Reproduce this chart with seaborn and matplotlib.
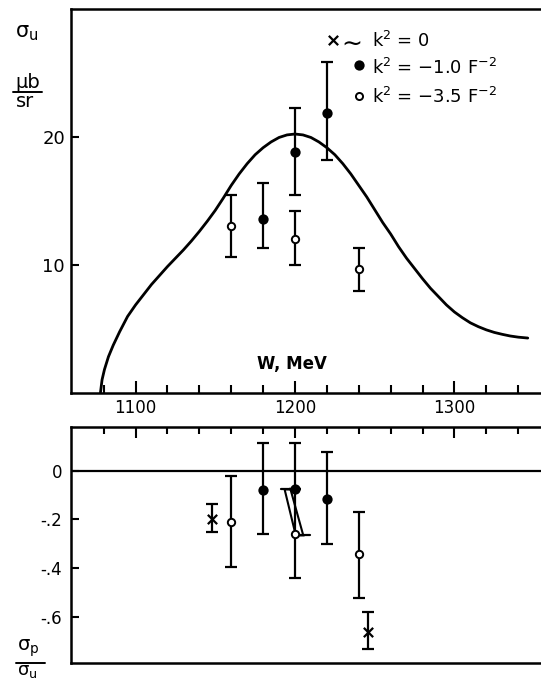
import matplotlib
matplotlib.use("Agg")
import matplotlib.pyplot as plt
import seaborn as sns
from matplotlib.lines import Line2D
from matplotlib.patches import Polygon
from matplotlib.ticker import FixedLocator

# theory curve, k^2 = 0  (W in MeV, sigma_u in microbarn/sr)
curve_w = [1078, 1079, 1080.5, 1083, 1086, 1090, 1095, 1100, 1105, 1110,
           1115, 1120, 1125, 1130, 1135, 1140, 1145, 1150, 1155, 1160,
           1165, 1170, 1175, 1180, 1185, 1190, 1195, 1200, 1205, 1210,
           1215, 1220, 1225, 1230, 1235, 1240, 1245, 1250, 1255, 1260,
           1265, 1270, 1275, 1280, 1285, 1290, 1295, 1300, 1305, 1310,
           1315, 1320, 1325, 1330, 1335, 1340, 1346]
curve_s = [0, 1.0, 1.8, 2.8, 3.7, 4.75, 5.95, 6.85, 7.65, 8.45,
           9.15, 9.85, 10.5, 11.15, 11.85, 12.6, 13.4, 14.25, 15.2, 16.2,
           17.1, 17.9, 18.6, 19.15, 19.6, 19.95, 20.15, 20.22, 20.15, 19.95,
           19.6, 19.15, 18.6, 17.9, 17.1, 16.2, 15.3, 14.3, 13.3, 12.4,
           11.4, 10.5, 9.7, 8.9, 8.15, 7.5, 6.85, 6.3, 5.85, 5.45,
           5.15, 4.9, 4.7, 4.55, 4.42, 4.33, 4.26]

# upper panel: k^2 = -1.0 F^-2 (filled) and -3.5 F^-2 (open)
up_filled_w = [1180, 1200, 1220]
up_filled_s = [13.6, 18.8, 21.85]
up_filled_lo = [11.33, 15.45, 18.2]
up_filled_hi = [16.37, 22.23, 25.83]

up_open_w = [1160, 1200, 1240]
up_open_s = [13.03, 11.98, 9.66]
up_open_lo = [10.62, 9.97, 7.94]
up_open_hi = [15.45, 14.22, 11.28]

# lower panel: sigma_p / sigma_u
lo_cross_w = [1148, 1246]
lo_cross_r = [-0.20, -0.662]
lo_cross_lo = [-0.251, -0.734]
lo_cross_hi = [-0.138, -0.582]

lo_filled_w = [1180, 1200, 1220]
lo_filled_r = [-0.079, -0.075, -0.118]
lo_filled_lo = [-0.261, -0.075, -0.302]
lo_filled_hi = [0.115, 0.115, 0.078]

lo_open_w = [1160, 1200, 1240]
lo_open_r = [-0.209, -0.261, -0.342]
lo_open_lo = [-0.394, -0.442, -0.524]
lo_open_hi = [-0.022, -0.075, -0.168]

# slanted band joining the two 1200 MeV points
band_w = [1193.5, 1197.2, 1205.2, 1200.5]
band_r = [-0.077, -0.077, -0.266, -0.266]
band_cap_top = [1191, 1197.5]
band_cap_bot = [1201, 1209.5]

major_ticks = [1100, 1200, 1300]
minor_ticks = list(range(1080, 1341, 20))
up_yticks = [10, 20]
lo_yticks = [0, -0.2, -0.4, -0.6]
lo_yticklabels = ["0", "-.2", "-.4", "-.6"]

sns.set_style("ticks")
plt.rcParams["font.family"] = ["DejaVu Sans"]
plt.rcParams["mathtext.fontset"] = "dejavusans"
for key in ("text.color", "axes.edgecolor", "axes.labelcolor", "xtick.color", "ytick.color"):
    plt.rcParams[key] = "black"

W, H = 541, 682
fig = plt.figure(figsize=(W / 100, H / 100), dpi=100)
fig.patch.set_facecolor("white")

def fx(px):
    return px / W

def fy(py):
    return 1 - py / H

ax1 = fig.add_axes([fx(70.5), fy(392.5), 1 - fx(70.5), 383.5 / H])
ax2 = fig.add_axes([fx(70.5), fy(663.3), 1 - fx(70.5), 236.6 / H])

LW = 1.8
for ax in (ax1, ax2):
    ax.set_xlim(1059.2, 1354.3)
    ax.spines["right"].set_visible(False)
    for s in ("left", "top", "bottom"):
        ax.spines[s].set_linewidth(LW)
        ax.spines[s].set_color("black")
    ax.set_facecolor("white")

# ---- upper panel
ax1.set_ylim(0, 30)
sns.lineplot(x=curve_w, y=curve_s, color="black", lw=2.0, ax=ax1, sort=False)

def yerr(v, lo, hi):
    return [[a - b for a, b in zip(v, lo)], [c - a for a, c in zip(v, hi)]]

ax1.errorbar(up_filled_w, up_filled_s, yerr=yerr(up_filled_s, up_filled_lo, up_filled_hi),
             fmt="none", ecolor="black", elinewidth=1.6, capsize=4, capthick=1.6, zorder=2)
ax1.errorbar(up_open_w, up_open_s, yerr=yerr(up_open_s, up_open_lo, up_open_hi),
             fmt="none", ecolor="black", elinewidth=1.6, capsize=4, capthick=1.6, zorder=2)
sns.scatterplot(x=up_filled_w, y=up_filled_s, color="black", s=55, linewidth=0, ax=ax1, zorder=4)
sns.scatterplot(x=up_open_w, y=up_open_s, facecolor="white", edgecolor="black", s=28,
                linewidth=1.4, ax=ax1, zorder=4)

ax1.xaxis.set_major_locator(FixedLocator(major_ticks))
ax1.xaxis.set_minor_locator(FixedLocator(minor_ticks))
ax1.set_xticklabels([str(t) for t in major_ticks])
ax1.tick_params(axis="x", which="major", direction="in", length=9, width=1.5,
                labelsize=12, pad=5, top=False)
ax1.tick_params(axis="x", which="minor", direction="in", length=6, width=1.5, top=False)
ax1.set_yticks(up_yticks)
ax1.set_yticklabels([str(t) for t in up_yticks])
ax1.tick_params(axis="y", direction="in", length=6, width=1.5, labelsize=13, pad=4)

ax1.text(0.471, 0.0756, "W, MeV", transform=ax1.transAxes, ha="center", va="center",
         fontsize=12, fontweight="bold")

# legend written into the plot
ax1.scatter([0.557], [0.918], marker="x", s=45, color="black", linewidths=1.6,
            transform=ax1.transAxes, clip_on=False)
ax1.text(0.593, 0.912, r"$\sim$", transform=ax1.transAxes, ha="center", va="center", fontsize=18)
ax1.scatter([0.614], [0.854], marker="o", s=55, color="black", linewidths=0,
            transform=ax1.transAxes)
ax1.scatter([0.613], [0.773], marker="o", s=26, facecolor="white", edgecolor="black",
            linewidths=1.4, transform=ax1.transAxes)
ax1.text(0.641, 0.9015, r"k$^2$ = 0", transform=ax1.transAxes, va="baseline", fontsize=13)
ax1.text(0.641, 0.8305, r"k$^2$ = $-$1.0 F$^{-2}$", transform=ax1.transAxes,
         va="baseline", fontsize=13)
ax1.text(0.641, 0.754, r"k$^2$ = $-$3.5 F$^{-2}$", transform=ax1.transAxes,
         va="baseline", fontsize=13)

# ---- lower panel
ax2.set_ylim(-0.792, 0.181)
ax2.axhline(0, color="black", lw=1.6, zorder=1)

ax2.errorbar(lo_cross_w, lo_cross_r, yerr=yerr(lo_cross_r, lo_cross_lo, lo_cross_hi),
             fmt="none", ecolor="black", elinewidth=1.6, capsize=4, capthick=1.6, zorder=2)
ax2.errorbar(lo_filled_w, lo_filled_r, yerr=yerr(lo_filled_r, lo_filled_lo, lo_filled_hi),
             fmt="none", ecolor="black", elinewidth=1.6, capsize=4, capthick=1.6, zorder=2)
ax2.errorbar(lo_open_w, lo_open_r, yerr=yerr(lo_open_r, lo_open_lo, lo_open_hi),
             fmt="none", ecolor="black", elinewidth=1.6, capsize=4, capthick=1.6, zorder=2)

ax2.add_patch(Polygon(list(zip(band_w, band_r)), closed=True, fill=False,
                      edgecolor="black", lw=1.5, zorder=2))
ax2.plot(band_cap_top, [band_r[0]] * 2, color="black", lw=1.6, zorder=2)
ax2.plot(band_cap_bot, [band_r[2]] * 2, color="black", lw=1.6, zorder=2)

sns.scatterplot(x=lo_cross_w, y=lo_cross_r, marker="x", color="black", s=45,
                linewidth=1.6, ax=ax2, zorder=4)
sns.scatterplot(x=lo_filled_w, y=lo_filled_r, color="black", s=55, linewidth=0, ax=ax2, zorder=4)
sns.scatterplot(x=lo_open_w, y=lo_open_r, facecolor="white", edgecolor="black", s=28,
                linewidth=1.4, ax=ax2, zorder=4)

ax2.xaxis.set_major_locator(FixedLocator(major_ticks))
ax2.xaxis.set_minor_locator(FixedLocator(minor_ticks))
ax2.tick_params(axis="x", which="major", direction="in", length=8, width=1.5,
                top=True, bottom=False, labeltop=False, labelbottom=False)
ax2.tick_params(axis="x", which="minor", direction="in", length=5, width=1.5,
                top=True, bottom=False)
ax2.set_yticks(lo_yticks)
ax2.set_yticklabels(lo_yticklabels)
ax2.tick_params(axis="y", direction="in", length=6, width=1.5, labelsize=12, pad=6)

# axis labels drawn as fractions at the left
fig.text(fx(15), fy(37), r"$\mathregular{\sigma_u}$", fontsize=15, ha="left", va="baseline")
fig.text(fx(27.5), fy(88), "\u03bcb", fontsize=14, ha="center", va="baseline")
fig.text(fx(25), fy(107), "sr", fontsize=14, ha="center", va="baseline")
fig.add_artist(Line2D([fx(13), fx(42)], [fy(91.7), fy(91.7)], color="black", lw=1.4,
                      transform=fig.transFigure))

fig.text(fx(17), fy(651), r"$\mathregular{\sigma_p}$", fontsize=14, ha="left", va="baseline")
fig.add_artist(Line2D([fx(16), fx(45)], [fy(662.7), fy(662.7)], color="black", lw=1.4,
                      transform=fig.transFigure))
fig.text(fx(17), fy(675), r"$\mathregular{\sigma_u}$", fontsize=13, ha="left", va="baseline")

fig.savefig("out.png", dpi=100, facecolor="white")
